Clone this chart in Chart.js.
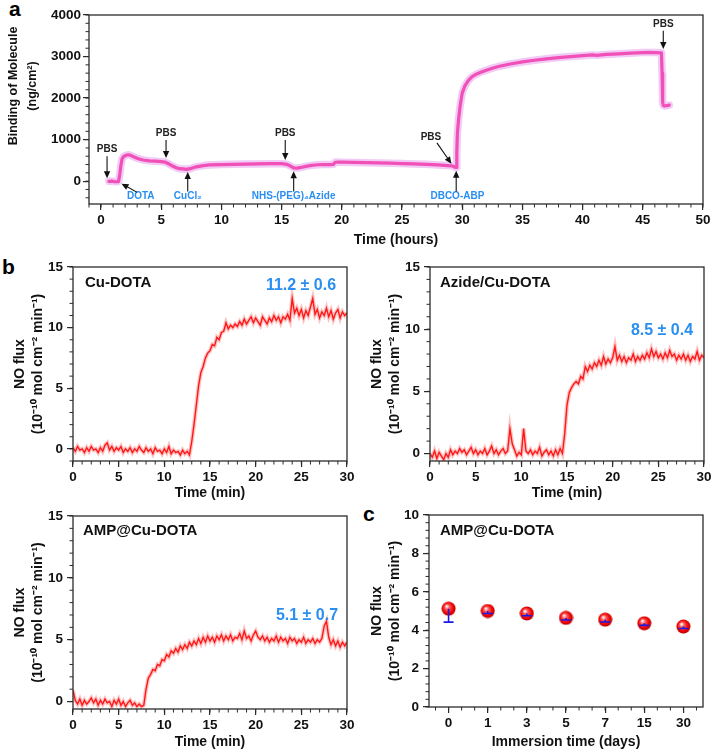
<!DOCTYPE html>
<html>
<head>
<meta charset="utf-8">
<script src="https://cdn.jsdelivr.net/npm/chart.js@4.4.0/dist/chart.umd.min.js"></script>
<style>
  body { margin: 0; background: #fff; width: 715px; height: 754px; position: relative; overflow: hidden; font-family: "Liberation Sans", Arial, sans-serif; }
  canvas { position: absolute; }
  .tag { position: absolute; font-weight: bold; font-size: 21px; line-height: 21px; color: #000; }
</style>
</head>
<body>
<div class="tag" style="left:9px;top:-2px">a</div>
<div class="tag" style="left:2px;top:256px">b</div>
<div class="tag" style="left:363px;top:503px">c</div>
<canvas id="chartA" style="left:0;top:0" width="715" height="252"></canvas>
<canvas id="chartB1" style="left:0;top:252px" width="357" height="248"></canvas>
<canvas id="chartB2" style="left:357px;top:252px" width="358" height="248"></canvas>
<canvas id="chartB3" style="left:0;top:500px" width="357" height="254"></canvas>
<canvas id="chartC" style="left:357px;top:500px" width="358" height="254"></canvas>
<script>
// ---- panel a : binding vs time (hours)
var hoursA = [0.65, 0.9, 1.1, 1.3, 1.45, 1.55, 1.65, 1.75, 1.9, 2.1,
  2.3, 2.5, 2.8, 3.1, 3.5, 4.0, 4.5, 5.0, 5.3, 5.6,
  5.9, 6.2, 6.5, 6.8, 7.1, 7.4, 7.7, 8.0, 8.5, 9.0,
  10, 11, 12, 13, 14, 15, 15.4, 15.7, 16.0, 16.3,
  16.6, 17.0, 17.5, 18.0, 18.5, 19.0, 19.3, 19.45, 19.7, 20.0,
  21, 22, 23, 24, 25, 26, 27, 28, 28.8, 29.2,
  29.4, 29.5, 29.55, 29.6, 29.7, 29.8, 29.9, 30.0, 30.2, 30.5,
  30.8, 31.2, 31.6, 32.0, 32.5, 33.0, 34.0, 35.0, 36.0, 37.0,
  38, 39, 40, 40.8, 41.2, 42, 43, 44, 45, 45.5,
  46.0, 46.55, 46.6, 46.65, 46.7, 46.8, 47.0, 47.2];
var bindingA = [-5, 0, -10, -15, -10, 150, 380, 540, 600, 625,
  635, 615, 575, 540, 510, 490, 480, 470, 460, 420,
  370, 330, 300, 295, 285, 300, 330, 350, 375, 390,
  400, 405, 410, 415, 420, 420, 405, 370, 320, 315,
  330, 355, 380, 395, 400, 400, 405, 455, 460, 458,
  452, 446, 440, 432, 424, 415, 405, 390, 375, 365,
  335, 330, 700, 1150, 1500, 1750, 1950, 2120, 2280, 2420,
  2510, 2580, 2630, 2670, 2720, 2760, 2820, 2870, 2910, 2945,
  2975, 3000, 3020, 3040, 3030, 3050, 3065, 3080, 3095, 3100,
  3095, 3090, 2600, 1900, 1820, 1810, 1820, 1830];
var ticksAx = [0, 5, 10, 15, 20, 25, 30, 35, 40, 45, 50];
var ticksAy = [0, 1000, 2000, 3000, 4000];

// ---- panel b : NO flux vs time (min)
var tMin = [0, 0.25, 0.5, 0.75, 1, 1.25, 1.5, 1.75,
  2, 2.25, 2.5, 2.75, 3, 3.25, 3.5, 3.75,
  4, 4.25, 4.5, 4.75, 5, 5.25, 5.5, 5.75,
  6, 6.25, 6.5, 6.75, 7, 7.25, 7.5, 7.75,
  8, 8.25, 8.5, 8.75, 9, 9.25, 9.5, 9.75,
  10, 10.25, 10.5, 10.75, 11, 11.25, 11.5, 11.75,
  12, 12.25, 12.5, 12.75, 13, 13.25, 13.5, 13.75,
  14, 14.25, 14.5, 14.75, 15, 15.25, 15.5, 15.75,
  16, 16.25, 16.5, 16.75, 17, 17.25, 17.5, 17.75,
  18, 18.25, 18.5, 18.75, 19, 19.25, 19.5, 19.75,
  20, 20.25, 20.5, 20.75, 21, 21.25, 21.5, 21.75,
  22, 22.25, 22.5, 22.75, 23, 23.25, 23.5, 23.75,
  24, 24.25, 24.5, 24.75, 25, 25.25, 25.5, 25.75,
  26, 26.25, 26.5, 26.75, 27, 27.25, 27.5, 27.75,
  28, 28.25, 28.5, 28.75, 29, 29.25, 29.5, 29.75,
  30];
var fluxCuDota = [0.1, -0.2, 0.2, -0.1, 0.0, -0.3, 0.1, -0.2,
  0.2, -0.1, 0.0, -0.3, 0.1, -0.2, 0.3, 0.5,
  -0.1, 0.2, -0.2, 0.1, -0.1, 0.2, -0.3, 0.0,
  -0.2, 0.1, -0.3, 0.0, -0.2, 0.2, -0.1, -0.3,
  0.1, -0.2, 0.0, -0.4, 0.1, -0.2, -0.1, -0.4,
  0.0, -0.3, 0.2, -0.4, -0.1, -0.3, -0.2, -0.5,
  -0.1, -0.4, -0.2, -0.5, 0.6, 2.0, 3.6, 5.2,
  6.3, 6.8, 7.5, 7.9, 8.1, 8.6, 8.5, 9.2,
  9.0, 9.6, 9.7, 10.4, 9.9, 10.2, 10.0, 10.3,
  10.1, 10.5, 10.2, 10.7, 10.3, 10.6, 10.9, 10.4,
  10.8, 10.5, 10.2, 10.9, 10.6, 10.3, 10.8, 10.5,
  11.0, 10.6, 10.9, 10.4, 10.9, 10.7, 11.1, 10.6,
  12.4, 11.2, 11.6, 11.0, 11.5, 10.8, 11.4, 11.0,
  11.7, 12.4, 11.1, 11.5, 10.8, 11.3, 11.0, 11.6,
  10.9, 11.4, 10.7, 11.2, 11.5, 10.8, 11.3, 11.0,
  11.2];
var fluxAzide = [0.0, -0.3, 0.2, -0.4, 0.1, -0.2, -0.5, 0.0,
  -0.3, 0.3, -0.1, 0.2, 0.0, 0.4, 0.1, 0.3,
  -0.1, 0.2, 0.5, 0.0, 0.3, -0.1, 0.2, 0.0,
  0.4, -0.1, 0.2, 0.6, 0.0, 0.3, -0.1, 0.2,
  0.4, 0.0, 0.2, 2.0, 0.8, 0.3, -0.2, 0.1,
  -0.1, 2.0, 0.2, 0.0, 0.3, -0.1, 0.2, 0.0,
  0.5, -0.2, 0.1, 0.3, -0.1, 0.2, -0.2, 0.3,
  -0.1, 0.4, 0.0, 1.6, 3.9, 4.9, 5.3, 5.6,
  5.8, 5.6, 6.2, 6.0, 7.0, 6.6, 7.1, 6.8,
  7.3, 7.0, 7.5, 7.1, 7.8, 7.2, 7.6, 7.3,
  7.7, 8.6, 7.5, 7.9, 7.4, 7.8, 7.3, 7.7,
  7.5, 8.0, 7.4, 7.8, 7.5, 7.9, 7.6, 8.1,
  7.7, 8.4, 7.8, 8.2, 7.7, 8.0, 7.6, 8.1,
  7.7, 8.3, 7.8, 8.0, 7.5, 7.9, 7.6, 8.0,
  7.5, 7.9, 7.4, 7.8, 7.6, 8.2, 7.5, 7.9,
  7.7];
var fluxAmp = [0.9, 0.1, -0.2, 0.2, -0.3, 0.1, -0.2, 0.0,
  0.3, -0.1, 0.2, -0.3, 0.1, -0.2, 0.2, -0.1,
  0.0, -0.4, 0.1, -0.2, 0.2, -0.3, 0.0, -0.4,
  -0.1, 0.1, -0.3, -0.1, -0.4, -0.2, -0.4, -0.3,
  1.0, 1.9, 2.2, 2.6, 2.5, 3.0, 2.9, 3.4,
  3.3, 3.8, 3.6, 4.1, 3.9, 4.3, 4.0, 4.5,
  4.2, 4.6, 4.3, 4.8, 4.5, 4.9, 4.6, 5.1,
  4.7, 5.2, 4.8, 5.3, 4.9, 5.2, 4.8, 5.3,
  5.0, 5.4, 4.9, 5.3, 5.0, 5.4, 4.9, 5.2,
  5.1, 5.5, 5.0, 5.7, 5.1, 5.3, 4.9, 5.4,
  5.7, 5.2, 5.0, 5.3, 4.9, 5.2, 4.8, 5.1,
  4.9, 5.3, 4.8, 5.2, 4.9, 5.1, 4.7, 5.2,
  4.9, 5.1, 4.7, 5.0, 4.8, 5.2, 4.7, 5.0,
  4.8, 5.1, 4.7, 5.0, 4.8, 5.1, 6.1, 6.5,
  5.2, 4.6, 5.0, 4.5, 4.9, 4.4, 4.8, 4.5,
  4.8];
var ticksBx = [0, 5, 10, 15, 20, 25, 30];
var ticksBy = [0, 5, 10, 15];

// ---- panel c : NO flux vs immersion time
var daysLabels = ['0', '1', '3', '5', '7', '15', '30'];
var fluxMean = [5.12, 5.0, 4.87, 4.64, 4.55, 4.36, 4.19];
var fluxLow = [4.42, 4.87, 4.75, 4.53, 4.43, 4.25, 4.09];
var ticksCy = [0, 2, 4, 6, 8, 10];

var FONT = '"Liberation Sans", Arial, sans-serif';
var ink = '#2b2b2b';
var blue = '#2a8ff0';
var fluxTitle = ['NO flux', '(10\u207B\u00B9\u2070 mol cm\u207B\u00B2 min\u207B\u00B9)'];

function pairs(xs, ys) {
  return xs.map(function (x, i) { return {x: x, y: ys[i]}; });
}

function minorMarks(ctx, scale, range, step, horizontal, edge) {
  var n0 = Math.ceil(range[0] / step - 1e-6), n1 = Math.floor(range[1] / step + 1e-6);
  for (var n = n0; n <= n1; n++) {
    var p = scale.getPixelForValue(n * step);
    if (horizontal) { ctx.moveTo(p, edge); ctx.lineTo(p, edge + 3.5); }
    else { ctx.moveTo(edge, p); ctx.lineTo(edge - 3.5, p); }
  }
}

function arrow(ctx, x1, y1, x2, y2) {
  var ang = Math.atan2(y2 - y1, x2 - x1), L = 7, W = 3.2;
  ctx.beginPath();
  ctx.moveTo(x1, y1);
  ctx.lineTo(x2 - Math.cos(ang) * (L - 1), y2 - Math.sin(ang) * (L - 1));
  ctx.stroke();
  ctx.beginPath();
  ctx.moveTo(x2, y2);
  ctx.lineTo(x2 - L * Math.cos(ang) + W * Math.sin(ang), y2 - L * Math.sin(ang) - W * Math.cos(ang));
  ctx.lineTo(x2 - L * Math.cos(ang) - W * Math.sin(ang), y2 - L * Math.sin(ang) + W * Math.cos(ang));
  ctx.closePath();
  ctx.fill();
}

// frame, minor ticks, arrows, captions, error bars
var decor = {
  id: 'decor',
  afterDatasetsDraw: function (chart, args, o) {
    var ctx = chart.ctx, a = chart.chartArea, xs = chart.scales.x, ys = chart.scales.y;
    ctx.save();
    ctx.strokeStyle = ink;
    ctx.lineWidth = 1.3;
    ctx.strokeRect(a.left, a.top, a.right - a.left, a.bottom - a.top);
    ctx.lineWidth = 1;
    ctx.beginPath();
    minorMarks(ctx, xs, o.xRange || [xs.min, xs.max], o.xMinor, true, a.bottom);
    minorMarks(ctx, ys, [ys.min, ys.max], o.yMinor, false, a.left);
    ctx.stroke();

    if (o.errLow) {
      ctx.strokeStyle = '#1a1ae6';
      ctx.lineWidth = 1.6;
      ctx.beginPath();
      o.errLow.forEach(function (v, i) {
        var x = xs.getPixelForValue(i), y1 = ys.getPixelForValue(o.errMean[i]), y2 = ys.getPixelForValue(v);
        ctx.moveTo(x, y1); ctx.lineTo(x, y2);
        ctx.moveTo(x - 5, y2); ctx.lineTo(x + 5, y2);
      });
      ctx.stroke();
    }

    (o.notes || []).forEach(function (n) {
      ctx.fillStyle = n.color || '#222';
      ctx.strokeStyle = '#111';
      ctx.font = 'bold 10px ' + FONT;
      ctx.textAlign = 'center';
      ctx.textBaseline = 'middle';
      ctx.fillText(n.text, xs.getPixelForValue(n.at[0]), ys.getPixelForValue(n.at[1]));
      ctx.fillStyle = '#111';
      ctx.lineWidth = 1.1;
      arrow(ctx, xs.getPixelForValue(n.from[0]), ys.getPixelForValue(n.from[1]),
        xs.getPixelForValue(n.to[0]), ys.getPixelForValue(n.to[1]));
    });

    (o.captions || []).forEach(function (c) {
      ctx.fillStyle = c.color || '#111';
      ctx.font = 'bold ' + c.size + 'px ' + FONT;
      ctx.textAlign = c.align || 'left';
      ctx.textBaseline = 'middle';
      ctx.fillText(c.text, a.left + c.dx, a.top + c.dy);
    });

    (o.sideTitle || []).forEach(function (t) {
      ctx.save();
      ctx.translate(t.x, t.y);
      ctx.rotate(-Math.PI / 2);
      ctx.fillStyle = '#111';
      ctx.font = 'bold 12.5px ' + FONT;
      ctx.textAlign = 'center';
      ctx.textBaseline = 'middle';
      ctx.fillText(t.text, 0, 0);
      ctx.restore();
    });
    ctx.restore();
  }
};

var tickFont = {family: FONT, size: 13.5, weight: 'bold'};
var titleFont = {family: FONT, size: 14, weight: 'bold', lineHeight: 1};
var sideFont = {family: FONT, size: 14, weight: 'bold', lineHeight: 1.3};
function plainNumber(v) { return String(v); }

function xAxis(o) {
  var ax = {
    type: o.type || 'linear', min: o.min, max: o.max, offset: !!o.offset,
    border: {display: false},
    grid: {drawOnChartArea: false, offset: false, color: ink, lineWidth: 1.2, tickLength: 6},
    ticks: {font: tickFont, color: '#111', padding: 2, maxRotation: 0, autoSkip: false},
    title: {display: true, text: o.title, font: titleFont, color: '#111', padding: {top: 0, bottom: o.tpad}},
    afterFit: function (s) { s.height = o.h; s.paddingLeft = 0; s.paddingRight = 0; }
  };
  if (o.ticks) {
    ax.ticks.callback = plainNumber;
    ax.afterBuildTicks = function (s) { s.ticks = o.ticks.map(function (v) { return {value: v}; }); };
  }
  return ax;
}

function yAxis(o) {
  return {
    type: 'linear', min: o.min, max: o.max,
    border: {display: false},
    grid: {drawOnChartArea: false, color: ink, lineWidth: 1.2, tickLength: 6},
    ticks: {font: tickFont, color: '#111', padding: o.pad || 3, callback: plainNumber},
    title: {display: !!o.title, text: o.title, font: sideFont, color: '#111', padding: {top: 11, bottom: 0}},
    afterBuildTicks: function (s) { s.ticks = o.ticks.map(function (v) { return {value: v}; }); },
    afterFit: function (s) { s.width = o.w; s.paddingTop = 0; s.paddingBottom = 0; }
  };
}

function baseOptions(pad, decorOpts, scales) {
  return {
    responsive: false,
    animation: false,
    layout: {padding: pad},
    elements: {point: {radius: 0}, line: {tension: 0}},
    plugins: {legend: {display: false}, tooltip: {enabled: false}, decor: decorOpts},
    scales: scales
  };
}

// panel a
var notesA = [
  {text: 'PBS', at: [0.5, 760], from: [0.5, 600], to: [0.5, 70]},
  {text: 'DOTA', color: blue, at: [3.3, -370], from: [3.0, -270], to: [1.7, -60]},
  {text: 'PBS', at: [5.4, 1150], from: [5.4, 990], to: [5.4, 560]},
  {text: 'CuCl\u2082', color: blue, at: [7.2, -360], from: [7.2, -250], to: [7.2, 220]},
  {text: 'PBS', at: [15.3, 1150], from: [15.3, 990], to: [15.3, 510]},
  {text: 'NHS-(PEG)\u2084Azide', color: blue, at: [16.0, -360], from: [16.0, -250], to: [16.0, 240]},
  {text: 'PBS', at: [27.4, 1060], from: [27.9, 920], to: [29.1, 420]},
  {text: 'DBCO-ABP', color: blue, at: [29.6, -360], from: [29.5, -250], to: [29.5, 250]},
  {text: 'PBS', at: [46.7, 3770], from: [46.7, 3620], to: [46.7, 3180]}
];

new Chart(document.getElementById('chartA'), {
  type: 'line',
  data: {
    datasets: [
      {data: pairs(hoursA, bindingA), borderColor: 'rgba(228,150,238,0.5)', borderWidth: 7.5, borderJoinStyle: 'round', borderCapStyle: 'round'},
      {data: pairs(hoursA, bindingA), borderColor: '#ff0a7f', borderWidth: 3.2, borderJoinStyle: 'round', borderCapStyle: 'round'}
    ]
  },
  options: baseOptions({left: 0, top: 15, right: 12, bottom: 0},
    {xMinor: 1, yMinor: 200, notes: notesA,
     sideTitle: [{text: 'Binding of Molecule', x: 14, y: 86}, {text: '(ng/cm\u00B2)', x: 33, y: 86}]},
    {
      x: xAxis({min: -1, max: 50, ticks: ticksAx, title: 'Time (hours)', h: 48, tpad: 5}),
      y: yAxis({min: -550, max: 4000, ticks: ticksAy, w: 89, pad: 2})
    }),
  plugins: [decor]
});

// panel b
function noChart(id, vals, padRight, padTop, h, tpad, yMin, captions) {
  return new Chart(document.getElementById(id), {
    type: 'line',
    data: {
      datasets: [
        {data: pairs(tMin, vals), borderColor: 'rgba(255,70,70,0.33)', borderWidth: 4},
        {data: pairs(tMin, vals), borderColor: '#ff0000', borderWidth: 1.4}
      ]
    },
    options: baseOptions({left: 0, top: padTop, right: padRight, bottom: 0},
      {xMinor: 1, yMinor: 1, captions: captions},
      {
        x: xAxis({min: 0, max: 30, ticks: ticksBx, title: 'Time (min)', h: h, tpad: tpad}),
        y: yAxis({min: yMin, max: 15, ticks: ticksBy, w: 73, title: fluxTitle, pad: 4})
      }),
    plugins: [decor]
  });
}

noChart('chartB1', fluxCuDota, 10, 15, 39, 0, -1, [
  {text: 'Cu-DOTA', dx: 12, dy: 16, size: 15},
  {text: '11.2 \u00B1 0.6', dx: 228, dy: 19, size: 16, color: blue, align: 'center'}
]);
noChart('chartB2', fluxAzide, 11, 15, 39, 0, -0.6, [
  {text: 'Azide/Cu-DOTA', dx: 10, dy: 16, size: 15},
  {text: '8.5 \u00B1 0.4', dx: 232, dy: 64, size: 16, color: blue, align: 'center'}
]);
noChart('chartB3', fluxAmp, 10, 16, 45, 5, -0.6, [
  {text: 'AMP@Cu-DOTA', dx: 10, dy: 15, size: 15},
  {text: '5.1 \u00B1 0.7', dx: 234, dy: 100, size: 16, color: blue, align: 'center'}
]);

// panel c
var sphere = document.createElement('canvas');
sphere.width = sphere.height = 15;
(function () {
  var g = sphere.getContext('2d');
  var grad = g.createRadialGradient(5.5, 5, 0.4, 7.5, 7.5, 7.5);
  grad.addColorStop(0, '#ffffff');
  grad.addColorStop(0.28, '#ff5a5a');
  grad.addColorStop(0.7, '#f20000');
  grad.addColorStop(1, '#a80000');
  g.fillStyle = grad;
  g.beginPath();
  g.arc(7.5, 7.5, 7, 0, Math.PI * 2);
  g.fill();
})();

new Chart(document.getElementById('chartC'), {
  type: 'line',
  data: {
    labels: daysLabels,
    datasets: [{data: fluxMean, showLine: false, pointStyle: sphere, pointRadius: 7}]
  },
  options: baseOptions({left: 0, top: 15, right: 12, bottom: 0},
    {xMinor: 1 / 3, yMinor: 0.4, xRange: [-0.5, 6.5], errLow: fluxLow, errMean: fluxMean,
     captions: [{text: 'AMP@Cu-DOTA', dx: 11, dy: 16, size: 15}]},
    {
      x: xAxis({type: 'category', offset: true, title: 'Immersion time (days)', h: 47, tpad: 5}),
      y: yAxis({min: 0, max: 10, ticks: ticksCy, w: 72, title: fluxTitle, pad: 4})
    }),
  plugins: [decor]
});
</script>
</body>
</html>
